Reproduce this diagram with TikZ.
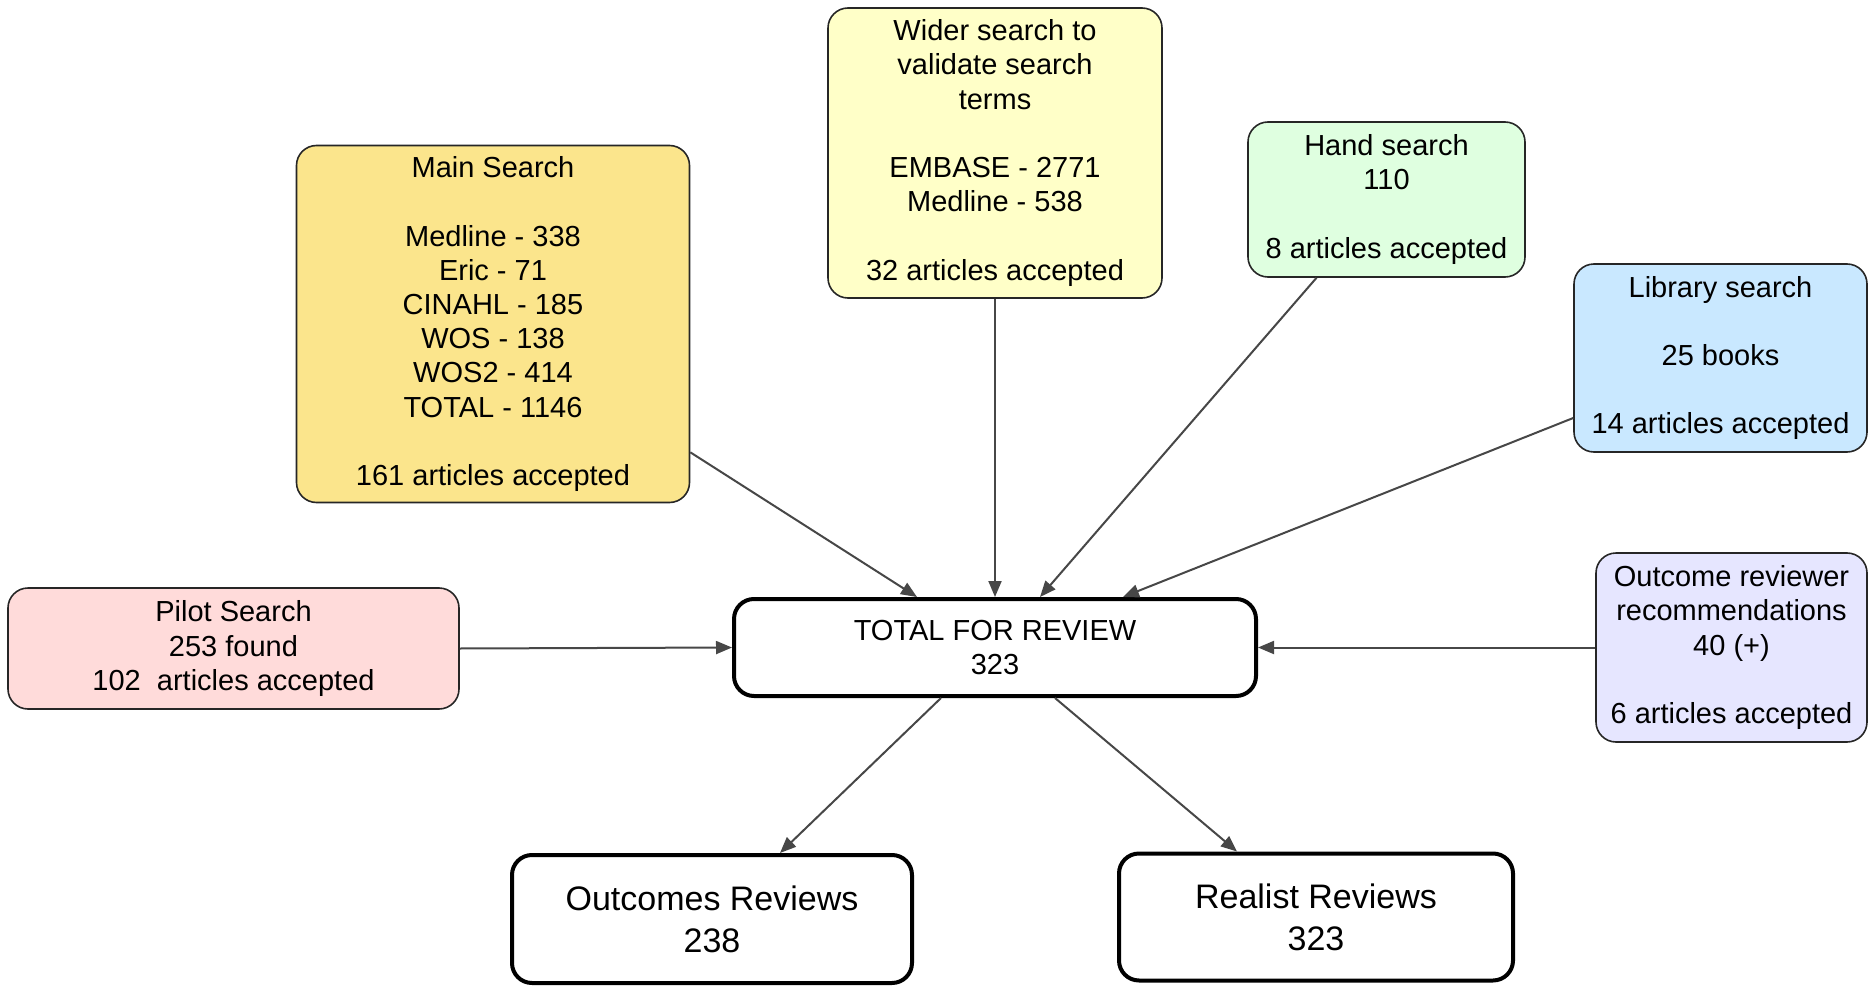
\documentclass[tikz,border=0pt]{standalone}
\usepackage{fontspec}
\setmainfont{Liberation Sans}
\usetikzlibrary{arrows.meta}
\definecolor{cMain}{HTML}{FBE58C}
\definecolor{cWide}{HTML}{FFFFC8}
\definecolor{cHand}{HTML}{DFFFE0}
\definecolor{cLib}{HTML}{C9E8FF}
\definecolor{cPilot}{HTML}{FFDBDA}
\definecolor{cRec}{HTML}{E6E6FF}
\definecolor{cLine}{HTML}{474747}
\begin{document}
\begin{tikzpicture}[x=1pt,y=-1pt,
  box/.style={draw=black!85, line width=1.6pt, rounded corners=20pt, align=center, inner sep=0pt,
    font=\fontsize{29}{34.2}\selectfont},
  bigbox/.style={draw=black, line width=4pt, fill=white, rounded corners=20pt, align=center, inner sep=0pt},
  conn/.style={draw=cLine, line width=2pt, -{Triangle[length=16pt,width=13pt]}}]
\useasboundingbox (0,0) rectangle (1874,987);
\def\gap{\\[34.2pt]}
\node[box, fill=cMain, minimum width=393pt, minimum height=357pt] (main) at (493,324)
  {Main Search\gap Medline - 338\\Eric - 71\\CINAHL - 185\\WOS - 138\\WOS2 - 414\\TOTAL - 1146\gap 161 articles accepted};
\node[box, fill=cWide, minimum width=334pt, minimum height=290pt] (wide) at (995,153)
  {Wider search to\\validate search\\terms\gap EMBASE - 2771\\Medline - 538\gap 32 articles accepted};
\node[box, fill=cHand, minimum width=277pt, minimum height=155pt] (hand) at (1386.5,199.5)
  {Hand search\\110\gap 8 articles accepted};
\node[box, fill=cLib, minimum width=293pt, minimum height=188pt] (lib) at (1720.5,358)
  {Library search\gap 25 books\gap 14 articles accepted};
\node[box, fill=cPilot, minimum width=451pt, minimum height=121pt] (pilot) at (233.5,648.5)
  {Pilot Search\\253 found\\102~ articles accepted};
\node[box, fill=cRec, minimum width=271pt, minimum height=189pt] (rec) at (1731.5,647.5)
  {Outcome reviewer\\recommendations\\40 (+)\gap 6 articles accepted};
\node[bigbox, minimum width=522pt, minimum height=97pt, font=\fontsize{29}{34.2}\selectfont] (total) at (995,647.5)
  {TOTAL FOR REVIEW\\323};
\node[bigbox, minimum width=400pt, minimum height=128pt, font=\fontsize{34}{42}\selectfont] (outc) at (712,919)
  {Outcomes Reviews\\238};
\node[bigbox, minimum width=394pt, minimum height=127pt, font=\fontsize{34}{42}\selectfont] (real) at (1316,917)
  {Realist Reviews\\323};
\draw[conn] ([yshift=51pt]main.south east) -- ([xshift=-78pt]total.north);
\draw[conn] (wide.south) -- (total.north);
\draw[conn] ([xshift=-70pt]hand.south) -- ([xshift=45pt]total.north);
\draw[conn] ([yshift=-60pt]lib.west) -- ([xshift=128pt]total.north);
\draw[conn] (pilot.east) -- (total.west);
\draw[conn] (rec.west) -- (total.east);
\draw[conn] ([xshift=-54pt]total.south) -- ([xshift=68pt]outc.north);
\draw[conn] ([xshift=60pt]total.south) -- ([xshift=-79pt]real.north);
\end{tikzpicture}
\end{document}
